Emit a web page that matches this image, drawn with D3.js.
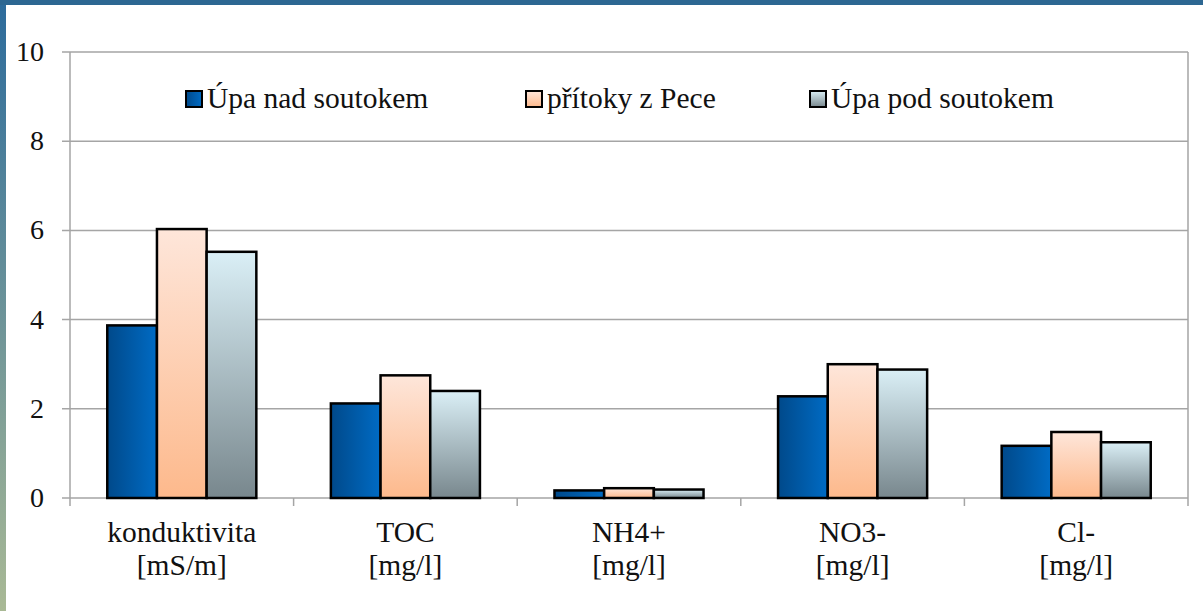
<!DOCTYPE html>
<html>
<head>
<meta charset="utf-8">
<script src="https://cdn.jsdelivr.net/npm/d3@7"></script>
</head>
<body style="margin:0">
<svg id="chart" width="1203" height="611" style="display:block"></svg>
<script>
// chart values
const categories = [["konduktivita", "[mS/m]"], ["TOC", "[mg/l]"], ["NH4+", "[mg/l]"], ["NO3-", "[mg/l]"], ["Cl-", "[mg/l]"]];
const seriesNames = ["Úpa nad soutokem", "přítoky z Pece", "Úpa pod soutokem"];
const upaNad = [3.87, 2.12, 0.17, 2.28, 1.17];
const pritoky = [6.03, 2.75, 0.22, 3.0, 1.48];
const upaPod = [5.52, 2.4, 0.19, 2.88, 1.25];
const yTicks = [0, 2, 4, 6, 8, 10];

const width = 1203, height = 611;
const margin = {top: 52, right: 15, bottom: 113, left: 70};

const svg = d3.select("#chart");

const defs = svg.append("defs");
const grads = [
  {id: "g0", x2: "100%", y2: "0%", stops: ["#00498a", "#006bc4"]},
  {id: "g1", x2: "0%", y2: "100%", stops: ["#fee6da", "#fdb98c"]},
  {id: "g2", x2: "0%", y2: "100%", stops: ["#daeff6", "#78878d"]}
];
grads.forEach(g => {
  const lg = defs.append("linearGradient").attr("id", g.id)
      .attr("x1", "0%").attr("y1", "0%").attr("x2", g.x2).attr("y2", g.y2);
  lg.append("stop").attr("offset", "0%").attr("stop-color", g.stops[0]);
  lg.append("stop").attr("offset", "100%").attr("stop-color", g.stops[1]);
});
const frame = defs.append("linearGradient").attr("id", "frame")
    .attr("x1", "0%").attr("y1", "0%").attr("x2", "0%").attr("y2", "100%");
frame.append("stop").attr("offset", "0%").attr("stop-color", "#2c6b9c");
frame.append("stop").attr("offset", "100%").attr("stop-color", "#a9b995");

// slide frame
svg.append("rect").attr("x", 0).attr("y", 0).attr("width", 6).attr("height", height).attr("fill", "url(#frame)");
svg.append("rect").attr("x", 0).attr("y", 0).attr("width", width).attr("height", 5).attr("fill", "#2d6792");

const x0 = d3.scaleBand()
    .domain(d3.range(categories.length))
    .range([margin.left, width - margin.right]);

const x1 = d3.scaleBand()
    .domain(d3.range(seriesNames.length))
    .range([0, x0.bandwidth()])
    .paddingInner(0)
    .paddingOuter(0.75);

const y = d3.scaleLinear()
    .domain([0, 10])
    .range([height - margin.bottom, margin.top]);

const grid = "#a5a5a5";

// gridlines
svg.append("g").selectAll("line")
  .data(yTicks)
  .join("line")
    .attr("x1", margin.left - 8)
    .attr("x2", width - margin.right)
    .attr("y1", d => y(d))
    .attr("y2", d => y(d))
    .attr("stroke", grid)
    .attr("stroke-width", 1.5);

// plot frame right + left axis
svg.append("line")
    .attr("x1", width - margin.right).attr("x2", width - margin.right)
    .attr("y1", y(10)).attr("y2", y(0) + 8)
    .attr("stroke", grid).attr("stroke-width", 1.5);
svg.append("line")
    .attr("x1", margin.left).attr("x2", margin.left)
    .attr("y1", y(10)).attr("y2", y(0) + 8)
    .attr("stroke", grid).attr("stroke-width", 1.5);

// category ticks
svg.append("g").selectAll("line")
  .data(d3.range(1, categories.length))
  .join("line")
    .attr("x1", d => x0(d)).attr("x2", d => x0(d))
    .attr("y1", y(0)).attr("y2", y(0) + 8)
    .attr("stroke", grid).attr("stroke-width", 1.5);

// bars
const series = [upaNad, pritoky, upaPod];
series.forEach((vals, si) => {
  svg.append("g").selectAll("rect")
    .data(vals)
    .join("rect")
      .attr("x", (d, i) => x0(i) + x1(si))
      .attr("y", d => y(d))
      .attr("width", x1.bandwidth())
      .attr("height", d => y(0) - y(d))
      .attr("fill", `url(#g${si})`)
      .attr("stroke", "#000")
      .attr("stroke-width", 2.5);
});

// all text in one serif group
const txt = svg.append("g")
    .attr("font-family", "Liberation Serif")
    .attr("fill", "#111");

// y labels
txt.append("g").selectAll("text")
  .data(yTicks)
  .join("text")
    .attr("x", 44)
    .attr("y", d => y(d) + 9)
    .attr("text-anchor", "end")
    .attr("font-size", 28)
    .text(d => d);

// category labels
const cl = txt.append("g").selectAll("text")
  .data(categories)
  .join("text")
    .attr("text-anchor", "middle")
    .attr("font-size", 29.5);
cl.append("tspan")
    .attr("x", (d, i) => x0(i) + x0.bandwidth() / 2)
    .attr("y", 542)
    .text(d => d[0]);
cl.append("tspan")
    .attr("x", (d, i) => x0(i) + x0.bandwidth() / 2)
    .attr("y", 575)
    .text(d => d[1]);

// legend
const legendX = [186, 526, 810];
const lg = txt.append("g").selectAll("g")
  .data(seriesNames)
  .join("g")
    .attr("transform", (d, i) => `translate(${legendX[i]},91)`);
lg.append("rect")
    .attr("width", 16).attr("height", 16)
    .attr("fill", (d, i) => `url(#g${i})`)
    .attr("stroke", "#000").attr("stroke-width", 2);
lg.append("text")
    .attr("x", 21).attr("y", 17)
    .attr("font-size", 29.5)
    .text(d => d);
</script>
</body>
</html>
